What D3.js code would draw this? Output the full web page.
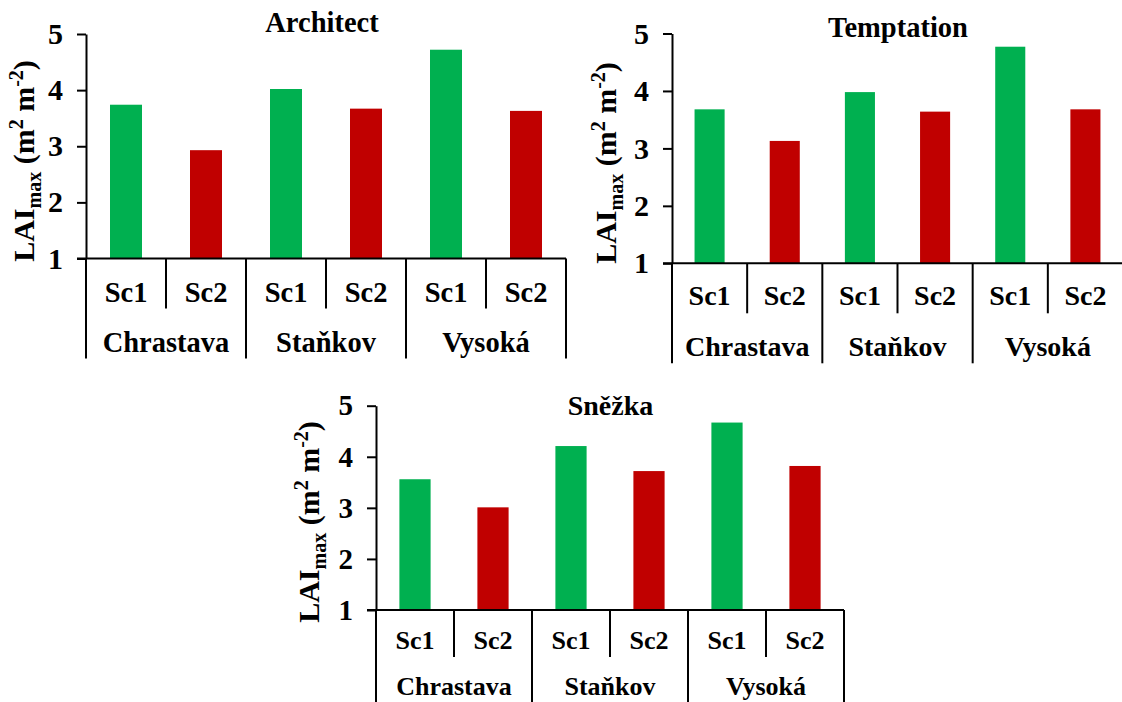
<!DOCTYPE html>
<html>
<head>
<meta charset="utf-8">
<script src="https://cdn.jsdelivr.net/npm/d3@7"></script>
<style>
  html, body { margin: 0; padding: 0; background: #fff; }
  svg text { font-family: "Liberation Serif", "Times New Roman", serif; font-weight: bold; fill: #000; }
</style>
</head>
<body>
<svg id="chart" width="1122" height="702"></svg>
<script>
// ---- data ----
const groups = ["Chrastava", "Staňkov", "Vysoká"];
const scenarios = ["Sc1", "Sc2"];
const yTicks = [1, 2, 3, 4, 5];
const titles = ["Architect", "Temptation", "Sněžka"];
const architect = [3.74, 2.93, 4.02, 3.67, 4.72, 3.63];
const temptation = [3.68, 3.13, 3.98, 3.64, 4.77, 3.68];
const snezka = [3.56, 3.01, 4.21, 3.72, 4.67, 3.82];
const colors = { Sc1: "#00B050", Sc2: "#C00000" };

// ---- layout per panel ----
const panels = [
  { title: titles[0], values: architect, x0: 86, x1: 566, yTop: 34, yBot: 258.5,
    fTick: 30, fCat: 28.5, fTitle: 28.5, titleX: 322, titleY: 31.5,
    scBase: 43, grpBase: 93.5, inner: 50, outer: 100, labX: 34, labY: 161, fLab: 30 },
  { title: titles[1], values: temptation, x0: 672, x1: 1123, yTop: 33.5, yBot: 263.3,
    fTick: 30, fCat: 28, fTitle: 28.5, titleX: 898, titleY: 36.5,
    scBase: 42, grpBase: 93, inner: 50, outer: 100, labX: 616, labY: 163, fLab: 30 },
  { title: titles[2], values: snezka, x0: 376, x1: 844, yTop: 405.7, yBot: 610,
    fTick: 29, fCat: 26, fTitle: 28, titleX: 610.5, titleY: 415,
    scBase: 39, grpBase: 85, inner: 47, outer: 100, labX: 319, labY: 522, fLab: 30 }
];

const svg = d3.select("#chart");

panels.forEach(p => {
  const cats = [];
  groups.forEach(g => scenarios.forEach(s => cats.push({ g, s, key: g + "|" + s })));
  const rows = cats.map((c, i) => ({ ...c, v: p.values[i] }));

  const x = d3.scaleBand().domain(cats.map(c => c.key)).range([p.x0, p.x1])
    .paddingInner(0.6).paddingOuter(0.3);
  const xCell = d3.scaleBand().domain(cats.map(c => c.key)).range([p.x0, p.x1]).padding(0);
  const y = d3.scaleLinear().domain([1, 5]).range([p.yBot, p.yTop]);
  const g = svg.append("g");

  // bars
  g.selectAll("rect.bar").data(rows).enter().append("rect")
    .attr("class", "bar")
    .attr("x", d => x(d.key))
    .attr("width", x.bandwidth())
    .attr("y", d => y(d.v))
    .attr("height", d => y(1) - y(d.v))
    .attr("fill", d => colors[d.s]);

  // y axis
  const ya = g.append("g").attr("transform", `translate(${p.x0},0)`)
    .call(d3.axisLeft(y).tickValues(yTicks).tickFormat(d3.format("d"))
      .tickSize(9).tickSizeOuter(0).tickPadding(14));
  ya.select(".domain").attr("stroke", "#000").attr("stroke-width", 2);
  ya.selectAll(".tick line").attr("stroke", "#000").attr("stroke-width", 2);
  ya.selectAll(".tick text").style("font-size", p.fTick + "px")
    .style("font-family", "'Liberation Serif', serif").style("font-weight", "bold").attr("fill", "#000");

  // x axis line
  g.append("line").attr("x1", p.x0 - 9).attr("x2", p.x1).attr("y1", y(1)).attr("y2", y(1))
    .attr("stroke", "#000").attr("stroke-width", 2);

  // separators
  const bounds = d3.range(cats.length + 1).map(i => i < cats.length ? xCell(cats[i].key) : p.x1);
  bounds.forEach((bx, i) => {
    const len = (i % 2 === 0) ? p.outer : p.inner;
    g.append("line").attr("x1", bx).attr("x2", bx).attr("y1", y(1)).attr("y2", y(1) + len)
      .attr("stroke", "#000").attr("stroke-width", 2);
  });

  // scenario labels
  g.selectAll("text.sc").data(rows).enter().append("text")
    .attr("class", "sc")
    .attr("x", d => xCell(d.key) + xCell.bandwidth() / 2)
    .attr("y", y(1) + p.scBase)
    .attr("text-anchor", "middle")
    .style("font-size", p.fCat + "px")
    .text(d => d.s);

  // group labels
  g.selectAll("text.grp").data(groups).enter().append("text")
    .attr("class", "grp")
    .attr("x", (d, i) => xCell(cats[i * 2].key) + xCell.bandwidth())
    .attr("y", y(1) + p.grpBase)
    .attr("text-anchor", "middle")
    .style("font-size", p.fCat + "px")
    .text(d => d);

  // title
  g.append("text").attr("x", p.titleX).attr("y", p.titleY).attr("text-anchor", "middle")
    .style("font-size", p.fTitle + "px").text(p.title);

  // y label
  const sub = Math.round(p.fLab * 0.67);
  const lab = g.append("text")
    .attr("transform", `translate(${p.labX},${p.labY}) rotate(-90)`)
    .attr("text-anchor", "middle")
    .style("font-size", p.fLab + "px");
  lab.append("tspan").text("LAI");
  lab.append("tspan").attr("dy", 7).style("font-size", sub + "px").text("max");
  lab.append("tspan").attr("dy", -7).text("\u00a0(m");
  lab.append("tspan").attr("dy", -11).style("font-size", sub + "px").text("2");
  lab.append("tspan").attr("dy", 11).text("\u00a0m");
  lab.append("tspan").attr("dy", -11).style("font-size", sub + "px").text("-2");
  lab.append("tspan").attr("dy", 11).text(")");
});
</script>
</body>
</html>
